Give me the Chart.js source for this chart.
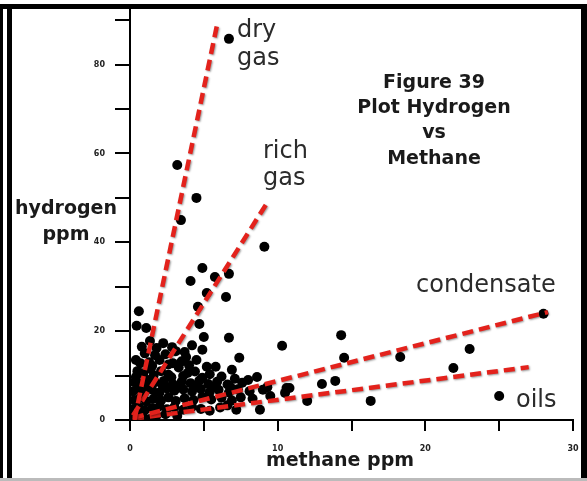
<!DOCTYPE html>
<html>
<head>
<meta charset="utf-8">
<script src="https://cdn.jsdelivr.net/npm/chart.js@4"></script>
<style>
  html, body { margin: 0; padding: 0; background: #fff; }
  #wrap { position: relative; width: 587px; height: 481px; }
</style>
</head>
<body>
<div id="wrap"><canvas id="plot" width="587" height="481"></canvas></div>
<script>
// methane (x) and hydrogen (y) readings, ppm
let methane = [
    6.7, 3.2, 4.5, 3.45, 9.1, 4.9, 4.1, 5.75, 6.7, 5.2, 6.5, 4.6, 0.6, 0.45, 1.1, 4.7, 5.0, 6.7, 10.3, 1.35,
    2.25, 2.85, 3.7, 4.9, 4.5, 1.0, 1.7, 5.2, 5.8, 7.4, 6.9, 8.6, 8.0, 9.3, 10.6, 10.5, 7.2, 8.8, 14.3, 14.5,
    18.3, 23.0, 21.9, 28.0, 25.0, 13.0, 13.9, 12.0, 16.3, 10.8, 1.35,
    0.5, 0.9, 1.4, 2.1, 2.6, 3.3, 3.9, 4.4, 5.4, 6.2, 7.1,
    0.3, 0.8, 1.2, 1.7, 2.3, 2.9, 3.5, 4.1, 4.7, 5.3, 5.9, 6.6, 7.6,
    0.2, 0.6, 1.0, 1.5, 2.0, 2.5, 3.0, 3.6, 4.2, 4.8, 5.4, 6.0, 6.7, 7.3, 8.1, 9.0,
    0.3, 0.7, 1.1, 1.6, 2.1, 2.6, 3.1, 3.7, 4.3, 4.9, 5.5, 6.2, 6.9, 7.5, 8.3, 9.5,
    0.2, 0.6, 1.0, 1.5, 2.0, 2.5, 3.0, 3.6, 4.2, 4.8, 5.4, 6.1, 6.6,
    0.1, 0.5, 0.9, 1.8, 2.4, 3.2,
    1.3, 2.0, 2.9, 3.5, 0.7, 4.0,
    0.4, 1.8, 2.4, 3.1, 1.5, 2.6, 3.8, 0.8, 4.2, 1.2, 2.2, 3.3, 4.5, 5.7, 0.4, 1.6, 2.8, 3.6, 4.9, 6.8
];
let hydrogen = [
    85.8, 57.4, 50, 45, 39, 34.2, 31.3, 32.2, 32.9, 28.6, 27.7, 25.5, 24.5, 21.2, 20.7, 21.6, 18.7, 18.5, 16.7, 17.8,
    17.3, 16.4, 15.3, 15.8, 13.5, 15, 14.6, 12, 12, 14, 11.3, 9.7, 9, 7.4, 7.2, 6.1, 2.3, 2.3, 19.1, 14.0,
    14.2, 16.0, 11.7, 23.9, 5.4, 8.1, 8.8, 4.3, 4.3, 7.2, 0.2,
    11, 10.5, 11.5, 11, 10.2, 11.8, 10.6, 10.9, 10.3, 9.8, 9.3,
    8.5, 8.2, 9, 8.5, 8.8, 8.1, 8.6, 8.3, 8.9, 8.1, 8.6, 8.0, 8.4,
    6.5, 7, 6.3, 6.8, 6.2, 7.1, 6.6, 6.9, 6.4, 7.0, 6.3, 6.8, 6.2, 6.9, 6.5, 6.8,
    4.5, 5, 4.2, 4.8, 4.4, 5.1, 4.3, 4.9, 4.5, 5.2, 4.6, 5.0, 4.4, 5.1, 4.8, 5.4,
    2.5, 2.9, 2.2, 2.7, 3.1, 2.4, 2.9, 2.3, 3.0, 2.5, 2.1, 2.8, 3.3,
    0.8, 1.2, 0.6, 1.0, 1.3, 0.9,
    13, 13.5, 12.8, 13.2, 12.8, 12.3,
    13.5, 16.2, 14.8, 15.5, 12.2, 12.5, 14.2, 16.5, 16.8, 7.6, 7.8, 7.4, 7.7, 7.5, 9.7, 10, 9.6, 9.9, 9.5, 7.4
];

// trend lines, [methane, hydrogen] at each end
let dryGas = [[0.3, 0], [5.9, 89]];
let richGas = [[0.2, 1], [9.4, 49.5]];
let condensate = [[0.2, 0.5], [28.3, 24.3]];
let oils = [[0.2, 0.3], [27.0, 11.9]];

let xTicks = [0, 10, 20, 30];
let yTicks = [0, 20, 40, 60, 80];

let points = methane.map((m, i) => ({ x: m, y: hydrogen[i] }));

function lineSet(pts) {
    return {
        type: 'line',
        data: pts.map(p => ({ x: p[0], y: p[1] })),
        borderColor: '#e3221c',
        borderWidth: 4.5,
        borderDash: [11, 6],
        pointRadius: 0,
        fill: false,
        order: 0
    };
}

const frameAndText = {
    id: 'frameAndText',
    beforeDraw(chart) {
        let c = chart.ctx;
        c.save();
        c.fillStyle = '#fff';
        c.fillRect(0, 0, chart.width, chart.height);
        c.restore();
    },
    beforeDatasetDraw(chart, args) {
        if (args.meta.type === 'line') {
            let c = chart.ctx;
            c.save();
            c.shadowColor = 'rgba(0,0,0,0.4)';
            c.shadowBlur = 2;
            c.shadowOffsetX = 1;
            c.shadowOffsetY = 1;
        }
    },
    afterDatasetDraw(chart, args) {
        if (args.meta.type === 'line') chart.ctx.restore();
    },
    afterDraw(chart) {
        let c = chart.ctx;
        c.save();
        c.fillStyle = '#2b2b2b';
        c.textAlign = 'left';
        c.textBaseline = 'alphabetic';
        c.font = '24px "DejaVu Sans"';
        c.fillText('dry', 237, 37);
        c.fillText('gas', 237, 65);
        c.fillText('rich', 263, 158);
        c.fillText('gas', 263, 185);
        c.fillText('condensate', 416, 292);
        c.fillText('oils', 516, 407);

        c.fillStyle = '#1a1a1a';
        c.textAlign = 'center';
        c.font = 'bold 19px "DejaVu Sans"';
        c.fillText('Figure 39', 434, 88);
        c.fillText('Plot Hydrogen', 434, 113);
        c.fillText('vs', 434, 138);
        c.fillText('Methane', 434, 164);

        c.fillText('hydrogen', 66, 214);
        c.fillText('ppm', 66, 240);
        c.fillText('methane ppm', 340, 466);

        // page frame
        c.fillStyle = '#000';
        c.fillRect(0, 4, 587, 5);
        c.fillRect(0, 4, 3, 477);
        c.fillRect(7, 4, 5, 477);
        c.fillRect(581, 4, 6, 477);
        c.fillStyle = '#bbb';
        c.fillRect(0, 478, 587, 3);
        c.restore();
    }
};

new Chart(document.getElementById('plot'), {
    type: 'scatter',
    data: {
        datasets: [
            {
                data: points,
                backgroundColor: '#000',
                borderWidth: 0,
                pointRadius: 5,
                order: 1
            },
            lineSet(dryGas),
            lineSet(richGas),
            lineSet(condensate),
            lineSet(oils)
        ]
    },
    options: {
        responsive: false,
        animation: false,
        events: [],
        layout: { padding: { left: 0, right: 14, top: 10, bottom: 0 } },
        plugins: { legend: { display: false }, tooltip: { enabled: false } },
        scales: {
            x: {
                type: 'linear',
                min: 0,
                max: 30,
                afterFit: s => { s.height = 61; s.paddingLeft = 0; s.paddingRight = 0; },
                afterBuildTicks: s => { s.ticks = [0, 5, 10, 15, 20, 25, 30].map(v => ({ value: v })); },
                border: { display: true, color: '#000', width: 2 },
                grid: { drawOnChartArea: false, drawTicks: true, tickLength: 11, color: '#000', lineWidth: 2 },
                ticks: {
                    padding: 13,
                    maxRotation: 0,
                    autoSkip: false,
                    color: '#222',
                    font: { family: 'DejaVu Sans', size: 8, weight: 'bold' },
                    callback: v => xTicks.includes(v) ? String(v) : ''
                }
            },
            y: {
                type: 'linear',
                min: 0,
                max: 92.3,
                afterFit: s => { s.width = 130; s.paddingTop = 0; s.paddingBottom = 0; },
                afterBuildTicks: s => { s.ticks = [0, 10, 20, 30, 40, 50, 60, 70, 80, 90].map(v => ({ value: v })); },
                border: { display: true, color: '#000', width: 2 },
                grid: { drawOnChartArea: false, drawTicks: true, tickLength: 15, color: '#000', lineWidth: 2 },
                ticks: {
                    padding: 10,
                    autoSkip: false,
                    color: '#222',
                    font: { family: 'DejaVu Sans', size: 8, weight: 'bold' },
                    callback: v => yTicks.includes(v) ? String(v) : ''
                }
            }
        }
    },
    plugins: [frameAndText]
});
</script>
</body>
</html>
